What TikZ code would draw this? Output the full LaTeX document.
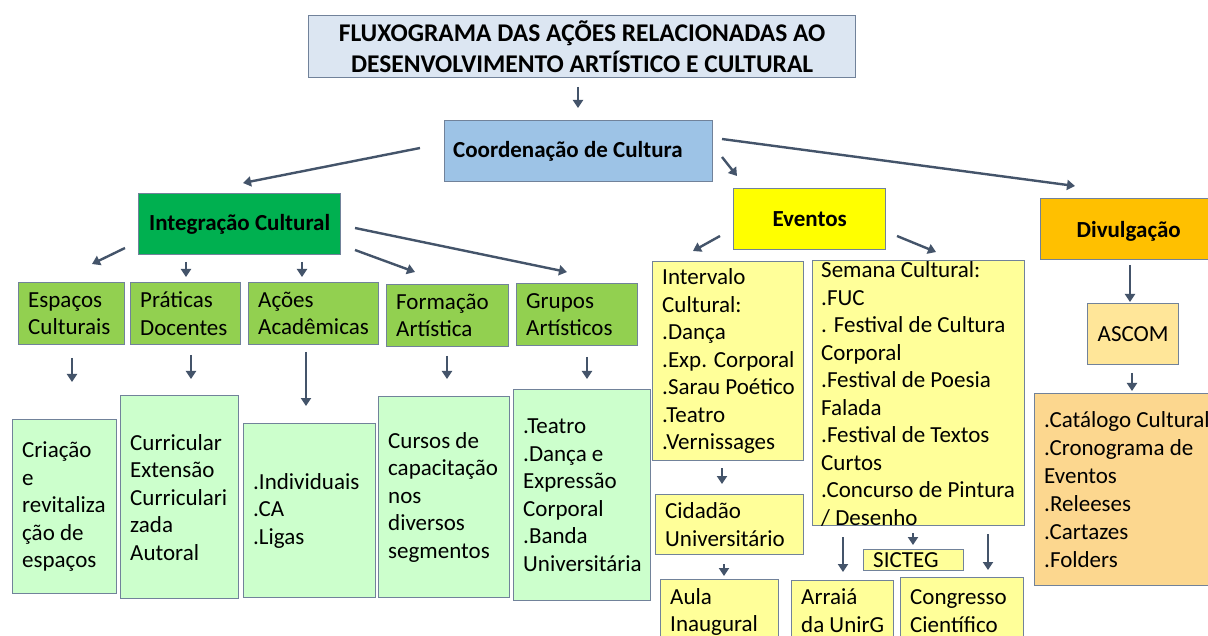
\documentclass[tikz,border=0pt]{standalone}
\usepackage{fontspec}
\setmainfont{Carlito}
\usetikzlibrary{arrows.meta}
\definecolor{arrowc}{HTML}{44546A}
\definecolor{bordc}{HTML}{71829A}
\definecolor{titlefill}{HTML}{DCE6F2}
\definecolor{coordfill}{HTML}{9DC3E6}
\definecolor{intfill}{HTML}{00B050}
\definecolor{evfill}{HTML}{FFFF00}
\definecolor{divfill}{HTML}{FFC000}
\definecolor{gfill}{HTML}{92D050}
\definecolor{lgfill}{HTML}{CCFFCC}
\definecolor{lyfill}{HTML}{FFFF99}
\definecolor{ascfill}{HTML}{FFE699}
\definecolor{catfill}{HTML}{FCD78F}
\newcommand{\arrw}[3]{\coordinate (#1s) at (#2); \coordinate (#1e) at (#3); \draw[arr] (#1s) -- (#1e);}
% #1 name, #2 x,y (top-left), #3 width, #4 height, #5 fill, #6 text
\newcommand{\tbox}[6]{%
  \node[bx, fill=#5, minimum width=#3, minimum height=#4] (#1) at (#2) {};
  \node[txt, anchor=west] (#1-t) at ([xshift=10pt]#1.west) {#6};}
\tikzset{
  bx/.style={draw=bordc, line width=1.3pt, inner sep=0pt, anchor=north west},
  txt/.style={align=left, inner sep=0pt, font=\fontsize{23}{27.5}\selectfont},
  cbox/.style={bx, align=center, font=\bfseries\fontsize{23}{27.5}\selectfont},
  arr/.style={draw=arrowc, line width=2.4pt, -{Triangle[length=8pt,width=10pt]}},
}
\begin{document}
\begin{tikzpicture}[x=1pt,y=-1pt]
\useasboundingbox (0,0) rectangle (1208,636);
\fill[white] (0,0) rectangle (1208,636);
% top levels
\node[cbox, fill=titlefill, minimum width=547pt, minimum height=62pt,
  font=\bfseries\fontsize{25.5}{31}\selectfont] (title) at (308,15)
  {FLUXOGRAMA DAS AÇÕES RELACIONADAS AO\\DESENVOLVIMENTO ARTÍSTICO E CULTURAL};
\node[bx, fill=coordfill, minimum width=268pt, minimum height=61pt] (coord) at (444,120) {};
\node[txt, anchor=west, font=\bfseries\fontsize{23}{27.5}\selectfont] (coord-t) at ([xshift=9pt]coord.west) {Coordenação de Cultura};
\node[cbox, fill=intfill, minimum width=202pt, minimum height=61pt] (integ) at (138,193) {Integração Cultural};
\node[cbox, fill=evfill, minimum width=152pt, minimum height=61pt] (evt) at (733,188) {Eventos};
\node[bx, fill=divfill, minimum width=176pt, minimum height=61pt] (div) at (1040,198) {};
\node[txt, font=\bfseries\fontsize{23}{27.5}\selectfont] (div-t) at ([yshift=-2pt]div.center) {Divulgação};
% level 2 green
\tbox{espacos}{18,282}{106pt}{62pt}{gfill}{Espaços\\Culturais}
\tbox{praticas}{130,282}{110pt}{62pt}{gfill}{Práticas\\Docentes}
\tbox{acoes}{248,282}{130pt}{62pt}{gfill}{Ações\\Acadêmicas}
\tbox{formacao}{386,284}{122pt}{62pt}{gfill}{Formação\\Artística}
\tbox{grupos}{516,283}{121pt}{62pt}{gfill}{Grupos\\Artísticos}
% level 3 light green
\tbox{criacao}{12,419}{104pt}{174pt}{lgfill}{Criação\\e\\revitaliza\\ção de\\espaços}
\tbox{curric}{120,395}{118pt}{203pt}{lgfill}{Curricular\\Extensão\\Curriculari\\zada\\Autoral}
\tbox{indiv}{243,423}{132pt}{174pt}{lgfill}{.Individuais\\.CA\\.Ligas}
\tbox{cursos}{378,396}{131pt}{201pt}{lgfill}{Cursos de\\capacitação\\nos\\diversos\\segmentos}
\tbox{teatro}{513,389}{137pt}{211pt}{lgfill}{.Teatro\\.Dança e\\Expressão\\Corporal\\.Banda\\Universitária}
% eventos
\tbox{interv}{652,261}{151pt}{199pt}{lyfill}{Intervalo\\Cultural:\\.Dança\\.Exp. Corporal\\.Sarau Poético\\.Teatro\\.Vernissages}
\node[bx, fill=lyfill, minimum width=212pt, minimum height=265pt] (semana) at (812,260) {};
\node[txt, anchor=west] (semana-t) at ([xshift=9pt,yshift=-1pt]semana.west)
  {Semana Cultural:\\.FUC\\. Festival de Cultura\\Corporal\\.Festival de Poesia\\Falada\\.Festival de Textos\\Curtos\\.Concurso de Pintura\\/ Desenho};
\tbox{cidadao}{655,494}{148pt}{60pt}{lyfill}{Cidadão\\Universitário}
\tbox{aula}{660,579}{118pt}{65pt}{lyfill}{Aula\\Inaugural}
\tbox{sicteg}{863,549}{100pt}{21pt}{lyfill}{SICTEG}
\tbox{arraia}{791,580}{102pt}{60pt}{lyfill}{Arraiá\\da UnirG}
\tbox{congresso}{900,577}{123pt}{67pt}{lyfill}{Congresso\\Científico}
% divulgacao
\node[bx, fill=ascfill, font=\fontsize{23}{27.5}\selectfont, minimum width=91pt, minimum height=61pt] (ascom) at (1087,303) {ASCOM};
\node[bx, fill=catfill, minimum width=186pt, minimum height=192pt] (catalogo) at (1034,393) {};
\node[txt, anchor=west, font=\fontsize{23}{28}\selectfont] (catalogo-t) at ([xshift=10pt]catalogo.west)
  {.Catálogo Cultural\\.Cronograma de\\Eventos\\.Releeses\\.Cartazes\\.Folders};
% arrows
\arrw{a1}{578,87}{578,108}
\arrw{a2}{420,148}{243,183}
\arrw{a3}{722,157}{737,176}
\arrw{a4}{722,139}{1075,186}
\arrw{a5}{125,248}{92,264}
\arrw{a6}{186,262}{186,277}
\arrw{a7}{302,262}{302,277}
\arrw{a8}{355,250}{415,272}
\arrw{a9}{355,228}{567,272}
\arrw{a10}{72,358}{72,382}
\arrw{a11}{191,355}{191,379}
\arrw{a12}{306,352}{306,406}
\arrw{a13}{447,356}{447,379}
\arrw{a14}{587,357}{587,379}
\arrw{a15}{720,236}{693,251}
\arrw{a16}{897,236}{936,252}
\arrw{a17}{722,468}{722,484}
\arrw{a18}{724,564}{724,576}
\arrw{a19}{843,537}{843,572}
\arrw{a20}{913,533}{913,545}
\arrw{a21}{988,534}{988,570}
\arrw{a22}{1130,265}{1130,302}
\arrw{a23}{1132,373}{1132,391}
\end{tikzpicture}
\end{document}
